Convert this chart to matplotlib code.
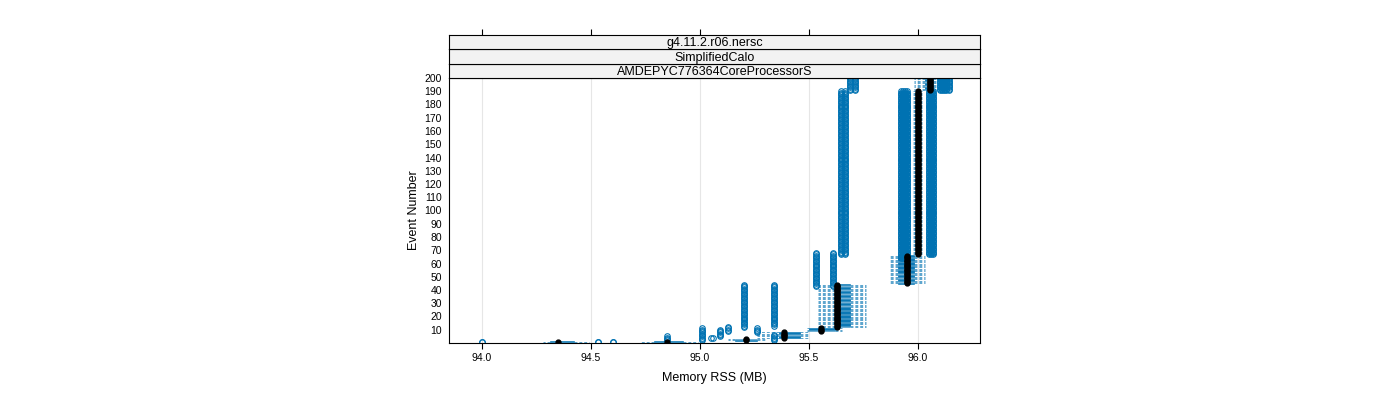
import matplotlib
matplotlib.use('Agg')
from matplotlib import pyplot as plt

plt.rcParams['font.family'] = ['Liberation Sans', 'DejaVu Sans']

BLUE = '#0072B2'

# one box per event; events in the same block share the same statistics
group_start = [1, 1, 2, 4, 9, 12, 45, 67, 191]
group_end = [1, 1, 3, 8, 11, 44, 66, 190, 200]
whis_lo = [94.28, 94.73, 95.13, 95.26, 95.49, 95.54, 95.87, 95.97, 95.98]
q1 = [94.31, 94.79, 95.16, 95.36, 95.50, 95.62, 95.91, 95.99, 96.03]
med = [94.35, 94.85, 95.21, 95.385, 95.555, 95.63, 95.95, 96.00, 96.055]
q3 = [94.42, 94.92, 95.26, 95.46, 95.62, 95.69, 95.98, 96.01, 96.07]
whis_hi = [94.49, 94.99, 95.30, 95.50, 95.65, 95.76, 96.03, 96.02, 96.08]

# outliers: (first event, last event, memory value)
flier_start = [1, 1, 1, 2, 2, 4, 4, 5, 9, 12, 8, 13, 2,
               43, 43, 67, 67,
               64, 64, 64, 64,
               67, 67, 67,
               191, 191, 191, 191, 191, 191, 191]
flier_end = [1, 1, 1, 5, 11, 4, 4, 10, 12, 44, 11, 44, 6,
             68, 68, 190, 190,
             190, 190, 190, 190,
             190, 190, 190,
             200, 200, 200, 200, 200, 200, 200]
flier_value = [94.00, 94.53, 94.60, 94.85, 95.01, 95.05, 95.06, 95.09, 95.13, 95.20, 95.26, 95.34, 95.34,
               95.53, 95.61, 95.645, 95.665,
               95.92, 95.93, 95.94, 95.95,
               96.05, 96.06, 96.07,
               95.69, 95.71, 96.10, 96.11, 96.12, 96.13, 96.14]

strip_labels = ['g4.11.2.r06.nersc', 'SimplifiedCalo', 'AMDEPYC776364CoreProcessorS']
x_ticks = [94.0, 94.5, 95.0, 95.5, 96.0]
y_ticks = list(range(10, 201, 10))

stats, positions = [], []
for i in range(len(group_start)):
    for ev in range(group_start[i], group_end[i] + 1):
        fl = [v for s, e, v in zip(flier_start, flier_end, flier_value) if s <= ev <= e]
        stats.append(dict(whislo=whis_lo[i], q1=q1[i], med=med[i], q3=q3[i],
                          whishi=whis_hi[i], fliers=fl))
        positions.append(ev)

fig = plt.figure(figsize=(14, 4), dpi=100)
L, R = 449 / 1400, 980 / 1400
ax = fig.add_axes([L, 57 / 400, R - L, 265 / 400])

ax.bxp(stats, positions=positions, orientation='horizontal', widths=0.6,
       patch_artist=True, showcaps=False, manage_ticks=False,
       boxprops=dict(facecolor=BLUE, edgecolor=BLUE, linewidth=0.4),
       whiskerprops=dict(color=BLUE, linestyle=(0, (3, 2)), linewidth=0.7, alpha=0.65),
       medianprops=dict(linewidth=0),
       flierprops=dict(marker='o', markersize=4, markerfacecolor='none',
                       markeredgecolor=BLUE, markeredgewidth=0.8))
ax.plot([s['med'] for s in stats], positions, 'o', color='black',
        markersize=3.5, zorder=4)

ax.set_xlim(93.849, 96.284)
ax.set_ylim(0, 200)
ax.set_xticks(x_ticks)
ax.set_xticklabels([f'{t:.1f}' for t in x_ticks])
ax.set_yticks(y_ticks)
ax.tick_params(axis='x', direction='out', length=4, width=0.8, labelsize=7.5, pad=3)
ax.tick_params(axis='y', length=0, labelsize=7.5, pad=5)
ax.grid(axis='x', color='#e6e6e6', linewidth=0.8)
ax.set_axisbelow(True)
for sp in ax.spines.values():
    sp.set_linewidth(0.8)
ax.set_xlabel('Memory RSS (MB)', fontsize=9, labelpad=7)
ax.set_ylabel('Event Number', fontsize=9, labelpad=3)

# strips, stacked above the panel
strip_h = 14.4 / 400
for k, lab in enumerate(reversed(strip_labels)):
    sax = fig.add_axes([L, (322 + k * 14.4) / 400, R - L, strip_h], sharex=ax)
    sax.set_facecolor('#f2f2f2')
    sax.set_yticks([])
    sax.tick_params(axis='x', which='both', bottom=False, labelbottom=False)
    for sp in sax.spines.values():
        sp.set_linewidth(0.8)
    sax.text(0.5, 0.42, lab, transform=sax.transAxes, ha='center', va='center', fontsize=9)
    if k == len(strip_labels) - 1:
        sax.tick_params(axis='x', top=True, direction='out', length=4, width=0.8,
                        labeltop=False)

fig.savefig('out.png', dpi=100)
